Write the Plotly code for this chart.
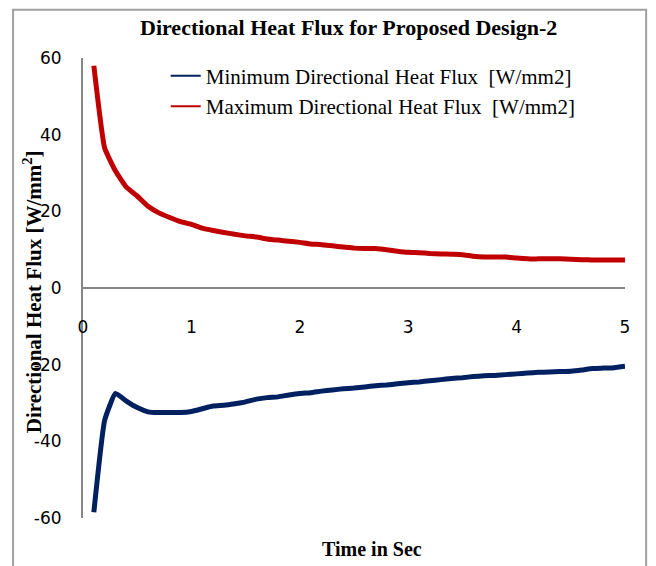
import plotly.graph_objects as go

time_s = [0.1, 0.2, 0.3, 0.4, 0.5, 0.6, 0.7, 0.8, 0.9, 1.0,
          1.1, 1.2, 1.3, 1.4, 1.5, 1.6, 1.7, 1.8, 1.9, 2.0,
          2.1, 2.2, 2.3, 2.4, 2.5, 2.6, 2.7, 2.8, 2.9, 3.0,
          3.1, 3.2, 3.3, 3.4, 3.5, 3.6, 3.7, 3.8, 3.9, 4.0,
          4.1, 4.2, 4.3, 4.4, 4.5, 4.6, 4.7, 4.8, 4.9, 5.0]

min_flux = [-58.5, -34.5, -27.5, -29.5, -31.2, -32.3, -32.5, -32.5, -32.5, -32.2,
            -31.5, -30.8, -30.6, -30.2, -29.7, -29.0, -28.6, -28.4, -27.9, -27.5,
            -27.3, -26.9, -26.6, -26.3, -26.1, -25.8, -25.5, -25.3, -25.0, -24.7,
            -24.5, -24.2, -23.9, -23.6, -23.4, -23.1, -22.9, -22.8, -22.6, -22.4,
            -22.2, -22.0, -21.9, -21.8, -21.7, -21.4, -21.0, -20.9, -20.8, -20.4]

max_flux = [58.0, 36.5, 30.5, 26.3, 24.0, 21.3, 19.6, 18.4, 17.3, 16.6,
            15.6, 15.0, 14.5, 14.0, 13.6, 13.3, 12.8, 12.5, 12.2, 11.9,
            11.5, 11.3, 11.0, 10.7, 10.4, 10.3, 10.3, 10.0, 9.6, 9.3,
            9.2, 9.0, 8.9, 8.8, 8.7, 8.3, 8.1, 8.1, 8.1, 7.8,
            7.6, 7.6, 7.6, 7.6, 7.5, 7.4, 7.3, 7.3, 7.3, 7.3]

x_ticks = [0, 1, 2, 3, 4, 5]
x_labels = ["0", "1", "2", "3", "4", "5"]
y_ticks = [-60, -40, -20, 0, 20, 40, 60]
y_labels = ["-60", "-40", "-20", "0", "20", "40", "60"]

NAVY = "#002060"
RED = "#C00000"
AXIS = "#868686"
serif = "Liberation Serif"
sans = "DejaVu Sans"

fig = go.Figure()

# legend entries drawn with thin lines, like the original
fig.add_trace(go.Scatter(x=[None], y=[None], mode="lines",
                         line=dict(color=NAVY, width=2),
                         name="Minimum Directional Heat Flux  [W/mm2]"))
fig.add_trace(go.Scatter(x=[None], y=[None], mode="lines",
                         line=dict(color=RED, width=2),
                         name="Maximum Directional Heat Flux  [W/mm2]"))

fig.add_trace(go.Scatter(x=time_s, y=min_flux, mode="lines",
                         line=dict(color=NAVY, width=5, shape="spline", smoothing=0.4),
                         showlegend=False))
fig.add_trace(go.Scatter(x=time_s, y=max_flux, mode="lines",
                         line=dict(color=RED, width=5, shape="spline", smoothing=0.4),
                         showlegend=False))

# outer chart border
fig.add_shape(type="rect", xref="paper", yref="paper",
              x0=-0.129, x1=1.039, y0=-0.2, y1=1.105,
              line=dict(color="#A0A0A0", width=2), layer="below")

fig.add_annotation(text="<b>Directional Heat Flux for Proposed Design-2</b>",
                   xref="paper", yref="paper", x=0.49, y=1.067,
                   xanchor="center", yanchor="middle",
                   showarrow=False, font=dict(family=serif, size=22, color="black"))
fig.add_annotation(text="<b>Directional Heat Flux [W/mm<sup>2</sup>]</b>",
                   xref="paper", yref="paper", x=-0.093, y=0.492, textangle=-90,
                   xanchor="center", yanchor="middle",
                   showarrow=False, font=dict(family=serif, size=21, color="black"))
fig.add_annotation(text="<b>Time in Sec</b>",
                   xref="paper", yref="paper", x=0.533, y=-0.067,
                   xanchor="center", yanchor="middle",
                   showarrow=False, font=dict(family=serif, size=20, color="black"))

fig.update_layout(
    width=648, height=558,
    margin=dict(l=75, r=31, t=50, b=48),
    paper_bgcolor="white", plot_bgcolor="white",
    showlegend=True,
    legend=dict(x=0.1526, y=1.005, xanchor="left", yanchor="top",
                bgcolor="rgba(0,0,0,0)",
                font=dict(family=serif, size=21, color="black")),
    xaxis=dict(range=[0, 5], tickvals=x_ticks, ticktext=x_labels,
               showgrid=False, zeroline=False,
               showline=True, linecolor=AXIS, linewidth=2,
               anchor="free", position=0.5, ticks="",
               ticklabelstandoff=24,
               tickfont=dict(family=sans, size=17, color="black")),
    yaxis=dict(range=[-60, 60], tickvals=y_ticks, ticktext=y_labels,
               showgrid=False, zeroline=False,
               showline=True, linecolor=AXIS, linewidth=2, ticks="",
               ticklabelstandoff=16,
               tickfont=dict(family=sans, size=17, color="black")),
)

fig.write_html("out.html")
